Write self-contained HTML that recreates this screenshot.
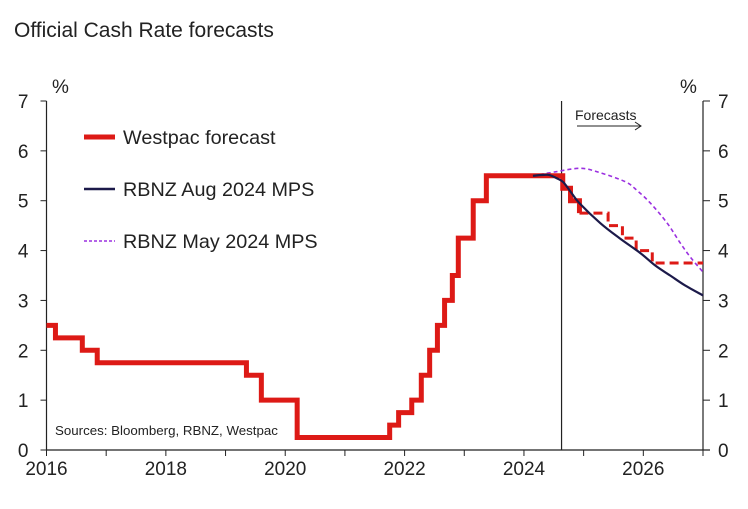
<!DOCTYPE html>
<html><head><meta charset="utf-8"><style>
body{margin:0;background:#fff;width:748px;height:504px;overflow:hidden}
svg{font-family:"Liberation Sans",Arial,sans-serif}
</style></head><body>
<svg id="c" width="748" height="504">
<text x="14" y="37" font-size="21" fill="#222">Official Cash Rate forecasts</text>
</svg>
<script>
const yTicks=[0,1,2,3,4,5,6,7];
const xLabels=[2016,2018,2020,2022,2024,2026];
const histX=[2016.0,2016.15,2016.6,2016.85,2019.35,2019.6,2020.2,2021.75,2021.9,2022.12,2022.28,2022.42,2022.55,2022.67,2022.8,2022.9,2023.15,2023.37,2024.65,2024.78,2024.93];
const histY=[2.5,2.25,2.0,1.75,1.5,1.0,0.25,0.5,0.75,1.0,1.5,2.0,2.5,3.0,3.5,4.25,5.0,5.5,5.25,5.0,4.75];
const fcX=[2024.93,2025.41,2025.65,2025.88,2026.15,2027.0];
const fcY=[4.75,4.5,4.25,4.0,3.75,3.75];
const augX=[2024.15,2024.4,2024.55,2024.66,2024.8,2024.93,2025.28,2025.6,2025.95,2026.2,2026.45,2026.7,2027.0];
const augY=[5.5,5.52,5.45,5.37,5.15,4.95,4.55,4.25,3.95,3.7,3.5,3.3,3.1];
const mayX=[2024.15,2024.53,2024.95,2025.28,2025.7,2025.9,2026.12,2026.4,2026.62,2026.8,2027.0];
const mayY=[5.5,5.58,5.65,5.56,5.38,5.2,4.95,4.55,4.15,3.85,3.57];
const markerX=2024.63;
const X0=46.5,X1=703,Y0=450,Y1=101;
const xs=v=>X0+(v-2016)/(2027-2016)*(X1-X0);
const ys=v=>Y0-v/7*(Y0-Y1);
const svg=document.getElementById('c');
const NS='http://www.w3.org/2000/svg';
function mk(tag,attrs,parent){const e=document.createElementNS(NS,tag);for(const k in attrs)e.setAttribute(k,attrs[k]);(parent||svg).appendChild(e);return e;}
let el;
el=mk('line',{x1:X0,y1:Y1,x2:X0,y2:Y0,stroke:'#222','stroke-width':1.2});


el=mk('line',{x1:X1,y1:Y1,x2:X1,y2:Y0,stroke:'#222','stroke-width':1.2});


el=mk('line',{x1:X0,y1:Y0,x2:X1+7,y2:Y0,stroke:'#222','stroke-width':1.2});


yTicks.forEach(t=>{
 mk('line',{x1:X0-6,y1:ys(t),x2:X0,y2:ys(t),stroke:'#222'});
 mk('line',{x1:X1,y1:ys(t),x2:X1+7,y2:ys(t),stroke:'#222'});
 let a=mk('text',{x:X0-18,y:ys(t)+7,'font-size':19,'text-anchor':'end',fill:'#222'});a.textContent=t;
 
 
 let b=mk('text',{x:X1+15,y:ys(t)+7,'font-size':19,fill:'#222'});b.textContent=t;
 
 
});
for(let yr=2016;yr<=2027;yr++){mk('line',{x1:xs(yr),y1:Y0,x2:xs(yr),y2:Y0+6,stroke:'#222'});}
xLabels.forEach(l=>{let t=mk('text',{x:xs(l),y:Y0+25,'font-size':19,'text-anchor':'middle',fill:'#222'});t.textContent=l;
 
 });
el=mk('text',{x:52,y:93,'font-size':19,fill:'#222'});el.textContent='%';


el=mk('text',{x:680,y:93,'font-size':19,fill:'#222'});el.textContent='%';


el=mk('line',{x1:xs(markerX),y1:Y1,x2:xs(markerX),y2:Y0,stroke:'#222','stroke-width':1.2});


el=mk('text',{x:575,y:120,'font-size':14,fill:'#222'});el.textContent='Forecasts';


el=mk('path',{d:'M577 126H641M635 122L641 126L635 130',stroke:'#222',fill:'none'});


function step(X,Y,endX){let d='M'+xs(X[0])+' '+ys(Y[0]);for(let i=1;i<X.length;i++){d+='H'+xs(X[i])+'V'+ys(Y[i]);}if(endX)d+='H'+xs(endX);return d;}
function smooth(X,Y){const P=X.map((x,i)=>[xs(x),ys(Y[i])]);let d='M'+P[0][0]+' '+P[0][1];
 for(let i=0;i<P.length-1;i++){const p0=P[Math.max(0,i-1)],p1=P[i],p2=P[i+1],p3=P[Math.min(P.length-1,i+2)];
 const c1=[p1[0]+(p2[0]-p0[0])/6,p1[1]+(p2[1]-p0[1])/6],c2=[p2[0]-(p3[0]-p1[0])/6,p2[1]-(p3[1]-p1[1])/6];
 d+='C'+c1[0]+' '+c1[1]+' '+c2[0]+' '+c2[1]+' '+p2[0]+' '+p2[1];}return d;}
el=mk('path',{d:smooth(mayX,mayY),stroke:'#9b30e0','stroke-width':1.6,'stroke-dasharray':'4 3',fill:'none'});


el=mk('path',{d:step(histX,histY),stroke:'#dd1a16','stroke-width':5,fill:'none'});


el=mk('path',{d:step(fcX,fcY),stroke:'#dd1a16','stroke-width':3,'stroke-dasharray':'9 5',fill:'none'});


el=mk('path',{d:smooth(augX,augY),stroke:'#1c1a4a','stroke-width':2.2,fill:'none'});


const leg=[['Westpac forecast','#dd1a16',5,'',137],['RBNZ Aug 2024 MPS','#1c1a4a',2.5,'',189],['RBNZ May 2024 MPS','#9b30e0',1.5,'3 2',241]];
leg.forEach(l=>{
 mk('line',{x1:84,y1:l[4],x2:115,y2:l[4],stroke:l[1],'stroke-width':l[2],'stroke-dasharray':l[3]});
 let t=mk('text',{x:123,y:l[4]+7,'font-size':19.8,fill:'#222'});t.textContent=l[0];
 
 
});
el=mk('text',{x:55,y:435,'font-size':13.3,fill:'#222'});el.textContent='Sources: Bloomberg, RBNZ, Westpac';


</script>
</body></html>
